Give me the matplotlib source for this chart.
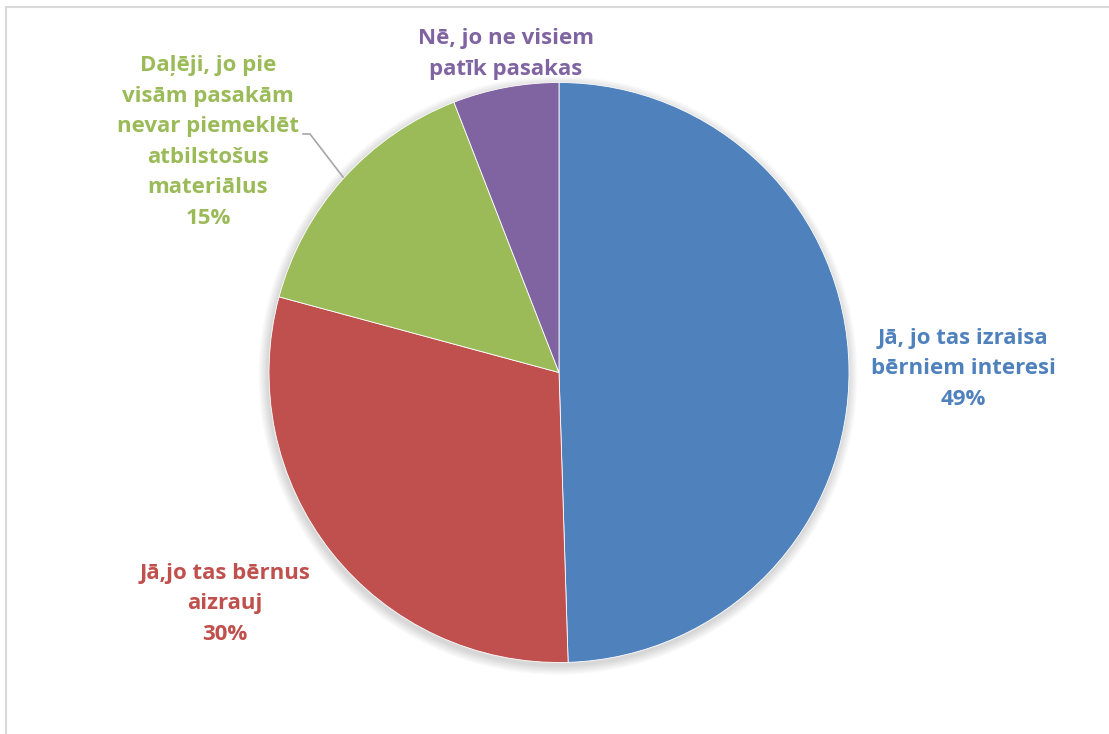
import matplotlib.pyplot as plt
from matplotlib.patches import Circle

labels = ['Jā, jo tas izraisa\nbērniem interesi\n49%',
          'Jā,jo tas bērnus\naizrauj\n30%',
          'Daļēji, jo pie\nvisām pasakām\nnevar piemeklēt\natbilstošus\nmateriālus\n15%',
          'Nē, jo ne visiem\npatīk pasakas']
values = [49.5, 29.7, 14.9, 5.9]
colors = ['#4F81BD', '#C0504D', '#9BBB59', '#8064A2']
label_pos = [(963, 369), (225, 604), (208, 142), (506, 54)]

W, H = 1109, 734
fig = plt.figure(figsize=(W / 100, H / 100), dpi=100)
ax = fig.add_axes([0, 0, 1, 1])

cx, cy, r = 559, H - 372.5, 290

# soft shadow
for i in range(8):
    ax.add_patch(Circle((cx - 1, cy - 3), r + 1 + i * 1.2, color='black',
                        alpha=0.018, lw=0, zorder=1))

ax.pie(values, colors=colors, startangle=90, counterclock=False,
       center=(cx, cy), radius=r, frame=True,
       wedgeprops=dict(linewidth=0.6, edgecolor='white', zorder=2))
ax.set_xlim(0, W)
ax.set_ylim(0, H)
ax.set_aspect('equal')
ax.axis('off')

for lab, (x, y), c in zip(labels, label_pos, colors):
    ax.text(x, H - y, lab, color=c, ha='center', va='center',
            fontsize=16, fontweight='bold', family='Open Sans',
            linespacing=1.59, zorder=5)

# leader line for green label
ax.plot([303, 310, 343], [H - 134, H - 134, H - 177], color='#A6A6A6', lw=1.2, zorder=4)

# chart border (top and left visible)
fig.add_artist(plt.Line2D([6 / W, 1], [1 - 7 / H, 1 - 7 / H], color='#D9D9D9', lw=1.5))
fig.add_artist(plt.Line2D([6 / W, 6 / W], [0, 1 - 7 / H], color='#D9D9D9', lw=1.5))

fig.savefig('out.png', dpi=100)
